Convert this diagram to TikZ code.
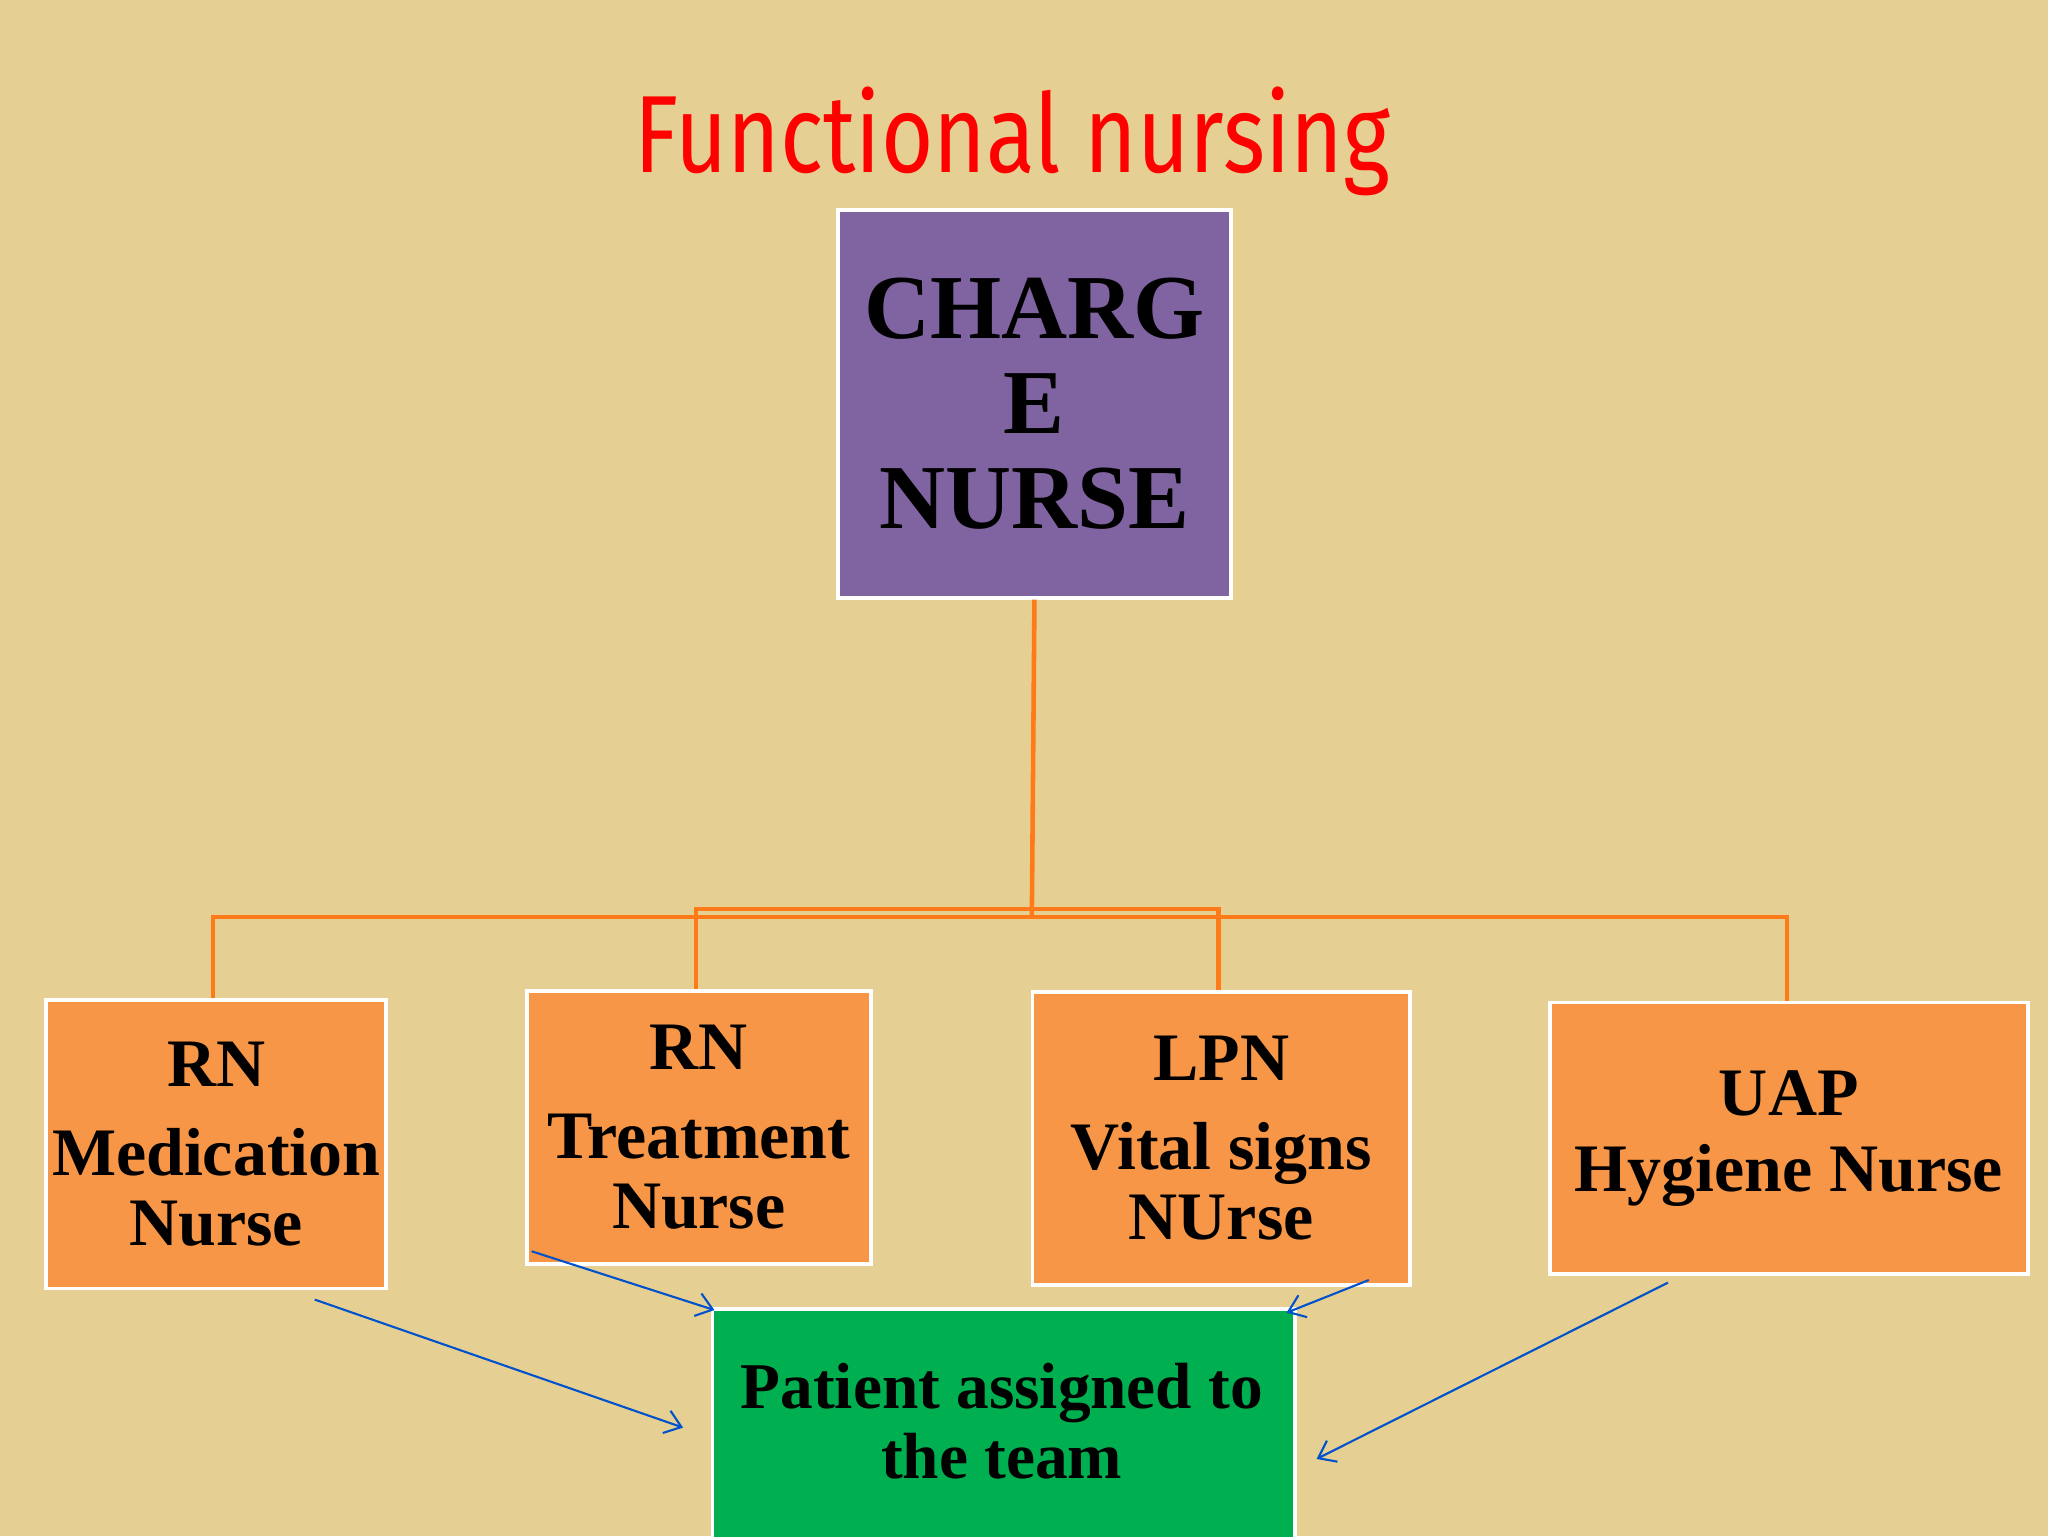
\documentclass[tikz,border=0pt]{standalone}
\usepackage{fontspec}
\setmainfont{Liberation Serif}
\newfontfamily\titlefont{Fira Sans}
\usetikzlibrary{arrows.meta}
\begin{document}
\begin{tikzpicture}[x=1pt,y=-1pt,
 bx/.style={draw=white,line width=3pt,inner sep=0pt,align=center,font=\bfseries\fontsize{52}{54}\selectfont,anchor=north west},
 org/.style={draw=orange!85!red!90!white,line width=3.5pt},
 blu/.style={draw=blue!60!cyan!80!black,line width=1.6pt,-{Straight Barb[length=12pt,width=18pt,line width=1.6pt]}}]
\definecolor{bg}{HTML}{E6CF92}
\definecolor{purp}{HTML}{8064A2}
\definecolor{orng}{HTML}{F79646}
\definecolor{grn}{HTML}{00B050}
\fill[bg] (0,0) rectangle (1568,1176);
\useasboundingbox (0,0) rectangle (1568,1176);
\node[text=red,font=\titlefont\fontsize{84}{88}\selectfont,xscale=0.82] (title) at (775,108) {Functional nursing};
\node[bx,fill=purp,minimum width=301pt,minimum height=297pt,font=\bfseries\fontsize{70}{73}\selectfont] (ch) at (640,159) {CHARG\\E\\NURSE};
\node[bx,fill=orng,minimum width=260pt,minimum height=221pt] (a) at (34,764) {RN\\[14pt]Medication\\Nurse};
\node[bx,fill=orng,minimum width=263pt,minimum height=209pt] (b) at (402,757) {RN\\[14pt]Treatment\\Nurse};
\node[bx,fill=orng,minimum width=289pt,minimum height=224pt] (c) at (789,758) {LPN\\[14pt]Vital signs\\NUrse};
\node[bx,fill=orng,minimum width=366pt,minimum height=208pt] (d) at (1185,766) {UAP\\[4pt]Hygiene Nurse};
\node[bx,fill=grn,minimum width=446pt,minimum height=190pt] (p) at (544,1001) {};
\node[align=center,font=\bfseries\fontsize{50}{54}\selectfont,inner sep=0pt] (pt) at (767,1088) {Patient assigned to\\the team};
\coordinate (j) at (790,702);
\draw[org] (ch.south) -- (j);
\draw[org] (a.north -| 163,0) -- (163,702) -- (1368,702) -- (d.north -| 1368,0);
\draw[org] (b.north -| 533,0) -- (533,696) -- (933,696) -- (c.north -| 933,0);
\coordinate (a1) at (241,995); \coordinate (a2) at (523,1093);
\coordinate (b1) at (407,958); \coordinate (b2) at (547,1003);
\coordinate (c1) at (1048,980); \coordinate (c2) at (985,1005);
\coordinate (d1) at (1277,982); \coordinate (d2) at (1008,1117);
\draw[blu] (a1) -- (a2);
\draw[blu] (b1) -- (b2);
\draw[blu] (c1) -- (c2);
\draw[blu] (d1) -- (d2);
\end{tikzpicture}
\end{document}
